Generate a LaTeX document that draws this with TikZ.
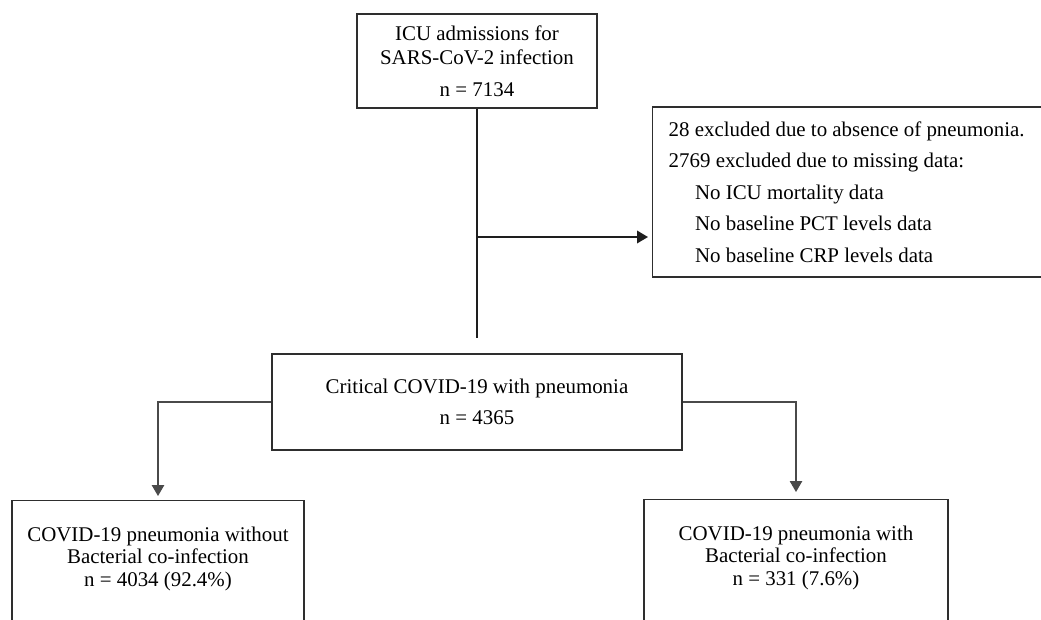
\documentclass[tikz,border=0pt]{standalone}
\usepackage{fontspec}
\setmainfont{Liberation Serif}
\usetikzlibrary{positioning,arrows.meta,calc}
\definecolor{boxline}{HTML}{2E2E2E}
\definecolor{flowline}{HTML}{1E1E1E}
\definecolor{branchline}{HTML}{4A4A4A}

\begin{document}
\begin{tikzpicture}[x=0.02cm, y=-0.02cm,
  flowbox/.style={draw=boxline, line width=0.8pt, align=center, font=\fontsize{11.9}{13.8}\selectfont},
  mainline/.style={draw=flowline, line width=1.1pt},
  sideline/.style={draw=branchline, line width=0.65pt},
  flowtip/.style={-{Triangle[length=0.22cm, width=0.25cm]}},
  outbox/.style={flowbox, anchor=north, text height=33.7pt, text depth=3cm, inner ysep=15pt, font=\fontsize{11.9}{12.8}\selectfont}]
\useasboundingbox (0,0) rectangle (1041,619);
\clip (0,0) rectangle (1041,619);
% boxes
\node[flowbox, minimum width=4.8cm, minimum height=1.88cm] (icu) at (477,61) {ICU admissions for\\SARS-CoV-2 infection\\[4.2pt]n = 7134};
\node[flowbox, anchor=west, align=left, text width=8cm, inner xsep=0.32cm, minimum height=3.4cm, font=\fontsize{11.9}{17.9}\selectfont] (excl) at (652,192) {\spaceskip=0pt\xspaceskip=0pt 28 excluded due to absence of pneumonia.\\2769 excluded due to missing data:\\\hspace*{15pt}No ICU mortality data\\\hspace*{15pt}No baseline PCT levels data\\\hspace*{15pt}No baseline CRP levels data};
\node[flowbox, minimum width=8.2cm, minimum height=1.92cm] (covid) at (477,402) {Critical COVID-19 with pneumonia\\[4.2pt]n = 4365};
\node[outbox, minimum width=5.84cm] (nobact) at (158,500) {COVID-19 pneumonia without\\Bacterial co-infection\\n = 4034 (92.4\%)};
\node[outbox, minimum width=6.08cm] (bact) at (796,499) {COVID-19 pneumonia with\\Bacterial co-infection\\n = 331 (7.6\%)};
% connectors
\coordinate (split) at (477,237);
\draw[mainline, shorten >=0.3cm] (icu) -- (covid);
\draw[mainline, flowtip, shorten >=0.08cm] (split) -- (split -| excl.west);
\draw[sideline, flowtip, shorten >=0.08cm] (covid.west) -| (nobact.north);
\draw[sideline, flowtip, shorten >=0.14cm] (covid.east) -| (bact.north);
\end{tikzpicture}
\end{document}
